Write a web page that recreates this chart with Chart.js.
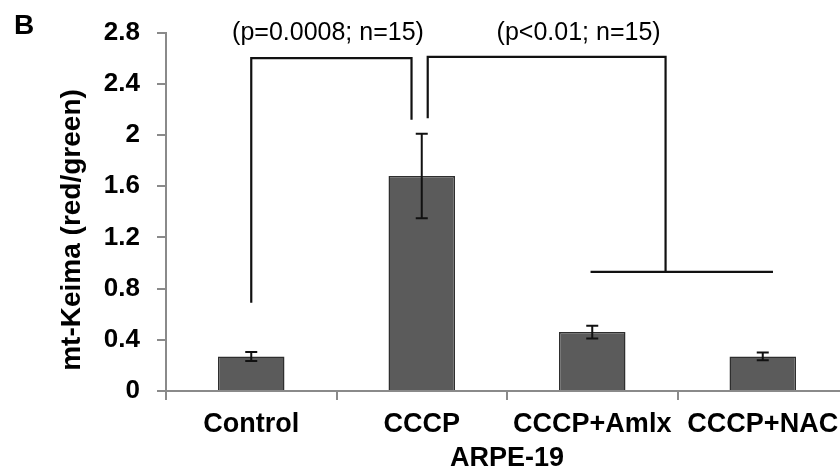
<!DOCTYPE html>
<html>
<head>
<meta charset="utf-8">
<script src="https://cdn.jsdelivr.net/npm/chart.js@4/dist/chart.umd.min.js"></script>
<style>
  html, body { margin: 0; padding: 0; background: #fff; overflow: hidden; }
  #wrap { width: 840px; height: 475px; overflow: hidden; position: relative; }
  canvas { display: block; }
</style>
</head>
<body>
<div id="wrap"><canvas id="c" width="870" height="475"></canvas></div>
<script>
// ---- data ----
const categories = ['Control', 'CCCP', 'CCCP+Amlx', 'CCCP+NAC'];
const means = [0.27, 1.68, 0.46, 0.27];
const errors = [0.035, 0.33, 0.05, 0.03];
const yTicks = [0, 0.4, 0.8, 1.2, 1.6, 2, 2.4, 2.8];
const yTickLabels = ['0', '0.4', '0.8', '1.2', '1.6', '2', '2.4', '2.8'];
const yTitle = 'mt-Keima (red/green)';
const xTitle = 'ARPE-19';
const panelLabel = 'B';
// significance annotations: x in category-index units, y in data units
const pLabels = ['(p=0.0008; n=15)', '(p<0.01; n=15)'];
const pLabelX = [0.45, 1.92];
const pLabelY = [2.8, 2.8];
// bracket polylines [x(index), y(value)]
const bracket1 = [[0, 0.69], [0, 2.60], [0.94, 2.60], [0.94, 2.12]];
const bracket2 = [[1.035, 2.13], [1.035, 2.61], [2.43, 2.61], [2.43, 0.93]];
const bracket2Base = [[1.99, 0.93], [3.06, 0.93]];

const FONT = "'Liberation Sans', Arial, sans-serif";

const overlay = {
  id: 'overlay',
  afterDatasetsDraw(chart) {
    const ctx = chart.ctx;
    const xs = chart.scales.x, ys = chart.scales.y;
    const catW = xs.getPixelForValue(1) - xs.getPixelForValue(0);
    const px = i => xs.getPixelForValue(0) + i * catW;
    const py = v => ys.getPixelForValue(v);
    ctx.save();
    // error bars
    ctx.strokeStyle = '#111';
    ctx.lineWidth = 2;
    means.forEach((m, i) => {
      const x = px(i);
      const t = py(m + errors[i]), b = py(m - errors[i]);
      ctx.beginPath();
      ctx.moveTo(x, t); ctx.lineTo(x, b);
      ctx.moveTo(x - 6, t); ctx.lineTo(x + 6, t);
      ctx.moveTo(x - 6, b); ctx.lineTo(x + 6, b);
      ctx.stroke();
    });
    // brackets
    const poly = pts => {
      ctx.beginPath();
      pts.forEach((p, k) => {
        const X = px(p[0]), Y = py(p[1]);
        if (k === 0) ctx.moveTo(X, Y); else ctx.lineTo(X, Y);
      });
      ctx.stroke();
    };
    ctx.lineWidth = 2.2;
    ctx.lineJoin = 'miter';
    poly(bracket1); poly(bracket2); poly(bracket2Base);
    // p labels
    ctx.fillStyle = '#000';
    ctx.font = '25px ' + FONT;
    ctx.textAlign = 'center';
    ctx.textBaseline = 'middle';
    pLabels.forEach((t, i) => ctx.fillText(t, px(pLabelX[i]), py(pLabelY[i]) + 1));
    // y axis title
    ctx.save();
    ctx.translate(72, 230);
    ctx.rotate(-Math.PI / 2);
    ctx.font = 'bold 28px ' + FONT;
    ctx.textAlign = 'center';
    ctx.textBaseline = 'middle';
    ctx.fillText(yTitle, 0, 0);
    ctx.restore();
    // panel label
    ctx.font = 'bold 28px ' + FONT;
    ctx.textAlign = 'left';
    ctx.textBaseline = 'middle';
    ctx.fillText(panelLabel, 14, 26);
    ctx.restore();
  }
};

new Chart(document.getElementById('c'), {
  type: 'bar',
  data: {
    labels: categories,
    datasets: [{
      data: means,
      backgroundColor: '#5b5b5b',
      borderColor: '#2e2e2e',
      borderWidth: 1.5,
      barPercentage: 0.39,
      categoryPercentage: 1.0
    }]
  },
  options: {
    responsive: false,
    animation: false,
    devicePixelRatio: 1,
    layout: { padding: { left: 0, right: 22, top: 29, bottom: 0 } },
    plugins: { legend: { display: false }, tooltip: { enabled: false } },
    scales: {
      y: {
        min: 0, max: 2.8,
        afterBuildTicks(s) { s.ticks = yTicks.map(v => ({ value: v })); },
        afterFit(s) { s.width = 166; },
        ticks: {
          callback: (v, i) => yTickLabels[i],
          color: '#000',
          font: { family: FONT, size: 26, weight: 'bold' },
          padding: 17
        },
        grid: { drawOnChartArea: false, drawTicks: true, tickLength: 9, color: '#8a8a8a', lineWidth: 2 },
        border: { display: true, color: '#8a8a8a', width: 2 }
      },
      x: {
        afterFit(s) { s.height = 84; },
        ticks: {
          color: '#000',
          font: { family: FONT, size: 27, weight: 'bold' },
          padding: 8,
          maxRotation: 0, autoSkip: false
        },
        grid: { drawOnChartArea: false, drawTicks: true, tickLength: 9, color: '#8a8a8a', lineWidth: 2, offset: true },
        border: { display: true, color: '#8a8a8a', width: 2 },
        title: {
          display: true, text: xTitle, color: '#000',
          font: { family: FONT, size: 27, weight: 'bold' },
          padding: { top: 0, bottom: 0 }
        }
      }
    }
  },
  plugins: [overlay]
});
</script>
</body>
</html>
